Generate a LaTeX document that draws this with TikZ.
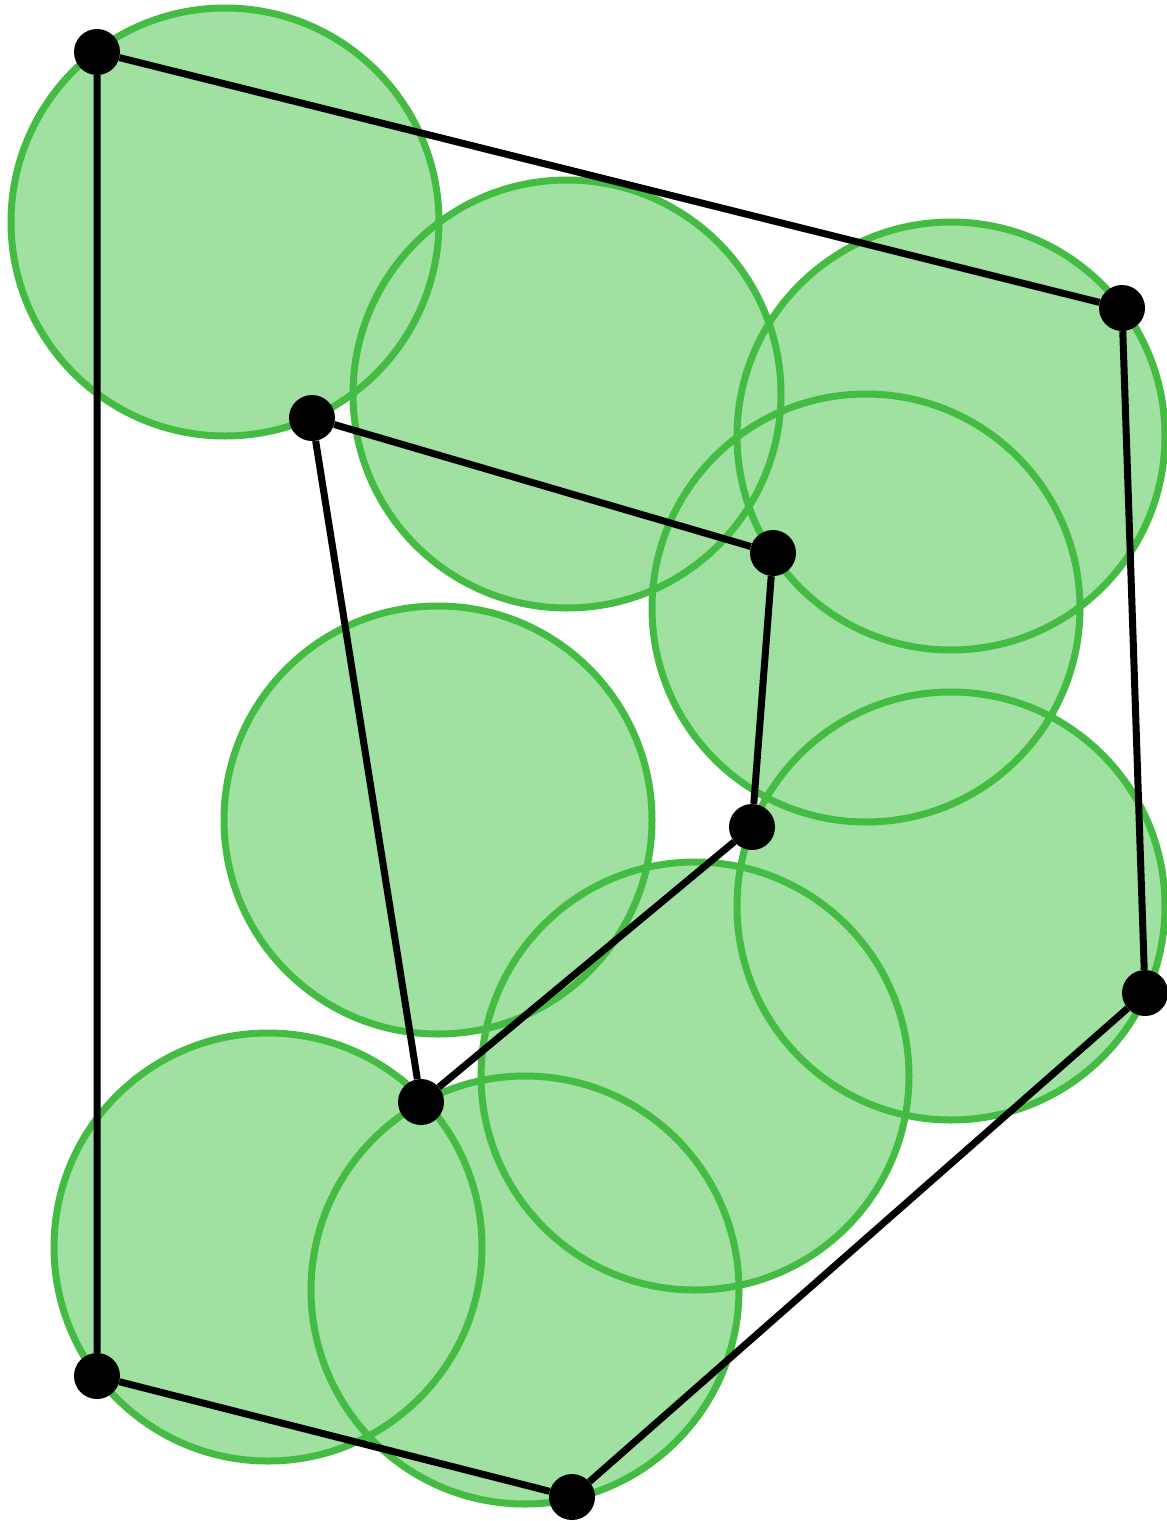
\documentclass[tikz,border=0pt]{standalone}
\definecolor{discfill}{RGB}{160,224,160}
\definecolor{discline}{RGB}{68,188,68}
\tikzset{
  vertex/.style={circle,fill=black,inner sep=0pt,minimum size=46pt},
  edge/.style={line width=7pt},
}
\begin{document}
\begin{tikzpicture}[x=1pt,y=-1pt]
  \useasboundingbox (0,0) rectangle (1167,1521);
  % discs: fill first, then outlines
  \foreach \cx/\cy in {225/222,567/394,951/436,866/608,438/820,951/906,695/1076,268/1247,525/1290}
    \fill[discfill] (\cx,\cy) circle (214);
  \foreach \cx/\cy in {225/222,567/394,951/436,866/608,438/820,951/906,695/1076,268/1247,525/1290}
    \draw[discline,line width=7pt] (\cx,\cy) circle (214);
  % vertices
  \node[vertex] (a) at (97,52) {};
  \node[vertex] (b) at (1122,308) {};
  \node[vertex] (c) at (312,418) {};
  \node[vertex] (d) at (773,553) {};
  \node[vertex] (e) at (752,827) {};
  \node[vertex] (f) at (1145,993) {};
  \node[vertex] (g) at (421,1102) {};
  \node[vertex] (h) at (97,1376) {};
  \node[vertex] (i) at (572,1497) {};
  % edges
  \draw[edge] (a)--(b) (a)--(h) (b)--(f) (c)--(d) (c)--(g)
        (d)--(e) (e)--(g) (f)--(i) (h)--(i);
\end{tikzpicture}
\end{document}
